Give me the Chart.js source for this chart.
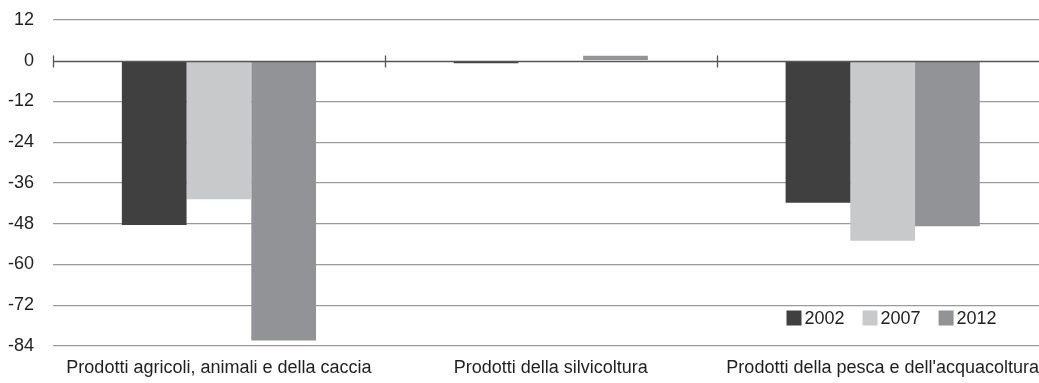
<!DOCTYPE html>
<html>
<head>
<meta charset="utf-8">
<script src="https://cdn.jsdelivr.net/npm/chart.js@4.4.1/dist/chart.umd.min.js"></script>
<style>
  html, body { margin: 0; padding: 0; background: #fff; overflow: hidden; }
  #wrap { width: 1050px; height: 383px; }
</style>
</head>
<body>
<div id="wrap"><canvas id="chart" width="1050" height="383"></canvas></div>
<script>
const categories = [
  'Prodotti agricoli, animali e della caccia',
  'Prodotti della silvicoltura',
  "Prodotti della pesca e dell'acquacoltura",
];
const years = ['2002', '2007', '2012'];
const values2002 = [-48.4, -0.7, -41.8];
const values2007 = [-40.8, 0, -53.0];
const values2012 = [-82.4, 1.5, -48.7];
const yTicks = [12, 0, -12, -24, -36, -48, -60, -72, -84];
const colors = ['#404040', '#c8c9cb', '#929396'];

const FONT = '"Liberation Sans", Arial, sans-serif';
const TEXT = '#1f1f1f';

// zero line over the bars, with little ticks at the category boundaries
const zeroLine = {
  id: 'zeroLine',
  afterDatasetsDraw(chart) {
    const { ctx, chartArea, scales } = chart;
    const y0 = Math.round(scales.y.getPixelForValue(0)) + 0.5;
    ctx.save();
    ctx.strokeStyle = '#555';
    ctx.lineWidth = 1.3;
    ctx.beginPath();
    ctx.moveTo(chartArea.left, y0);
    ctx.lineTo(chartArea.right, y0);
    const n = categories.length;
    for (let i = 0; i <= n; i++) {
      let x;
      if (i === 0) x = chartArea.left;
      else if (i === n) x = chartArea.right;
      else x = (scales.x.getPixelForValue(i - 1) + scales.x.getPixelForValue(i)) / 2;
      x = Math.round(x) + 0.5;
      ctx.moveTo(x, y0 - 6);
      ctx.lineTo(x, y0 + 6);
    }
    ctx.stroke();
    ctx.restore();
  },
};

// legend drawn inside the plot, lower right
const innerLegend = {
  id: 'innerLegend',
  afterDraw(chart) {
    const { ctx, chartArea } = chart;
    ctx.save();
    ctx.font = '18px ' + FONT;
    ctx.textBaseline = 'middle';
    const box = 15, gap = 3, itemGap = 18;
    const items = chart.data.datasets.map(d => ({ label: d.label, color: d.backgroundColor }));
    let total = 0;
    items.forEach((it, i) => {
      it.w = box + gap + ctx.measureText(it.label).width;
      total += it.w + (i ? itemGap : 0);
    });
    let x = chartArea.right - 52 - total;
    const yc = chartArea.bottom - 28;
    items.forEach(it => {
      ctx.fillStyle = it.color;
      ctx.fillRect(x, yc - box / 2, box, box);
      ctx.fillStyle = TEXT;
      ctx.fillText(it.label, x + box + gap, yc + 1);
      x += it.w + itemGap;
    });
    ctx.restore();
  },
};

new Chart(document.getElementById('chart'), {
  type: 'bar',
  data: {
    labels: categories,
    datasets: [
      { label: years[0], data: values2002, backgroundColor: colors[0] },
      { label: years[1], data: values2007, backgroundColor: colors[1] },
      { label: years[2], data: values2012, backgroundColor: colors[2] },
    ],
  },
  options: {
    responsive: false,
    animation: false,
    devicePixelRatio: 1,
    layout: { padding: { top: 20, right: 0, left: 0, bottom: 0 } },
    plugins: {
      legend: { display: false },
      tooltip: { enabled: false },
    },
    datasets: {
      bar: { barPercentage: 1, categoryPercentage: 0.585, borderWidth: 0 },
    },
    scales: {
      x: {
        grid: { display: false, drawTicks: false },
        border: { display: false },
        ticks: {
          color: TEXT,
          font: { family: FONT, size: 18 },
          padding: 11,
          maxRotation: 0,
        },
        afterFit(scale) { scale.height = 37; },
      },
      y: {
        min: -84,
        max: 12,
        afterBuildTicks(scale) {
          scale.ticks = yTicks.map(v => ({ value: v }));
        },
        grid: {
          color: ctx => (ctx.tick && ctx.tick.value === 0 ? 'rgba(0,0,0,0)' : '#9a9a9a'),
          lineWidth: 1.3,
          drawTicks: false,
        },
        border: { display: false },
        ticks: {
          color: TEXT,
          font: { family: FONT, size: 18 },
          padding: 19,
        },
        afterFit(scale) {
          scale.width = 53;
          scale.paddingTop = 0;
          scale.paddingBottom = 0;
        },
      },
    },
  },
  plugins: [zeroLine, innerLegend],
});
</script>
</body>
</html>
